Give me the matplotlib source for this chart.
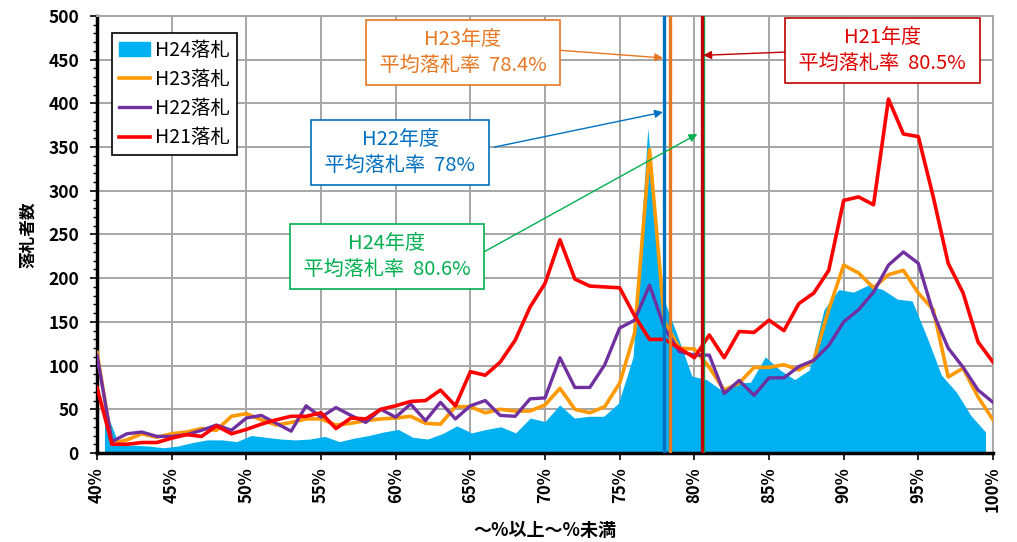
"""
Distribution of winning bid rates (落札率) for H21-H24, with yearly averages.
"""
import numpy as np
import matplotlib.pyplot as plt
from matplotlib.patches import Patch
from matplotlib.lines import Line2D
from matplotlib.ticker import MultipleLocator

plt.rcParams['font.family'] = ['Noto Sans CJK JP', 'DejaVu Sans']

# bid rate bins (%), 40% .. 100%
rates = list(range(40, 101))

h24 = [52, 9, 9, 8, 6, 8, 12, 15, 15, 13,
       20, 18, 16, 15, 16, 19, 13, 17, 20, 24,
       27, 18, 16, 22, 31, 23, 27, 30, 23, 40,
       36, 55, 40, 42, 42, 57, 110, 372, 180, 135,
       88, 84, 72, 80, 81, 110, 95, 84, 95, 164,
       187, 184, 192, 187, 176, 174, 133, 89, 70, 43, 24]
h23 = [115, 11, 15, 22, 18, 22, 24, 28, 26, 42,
       45, 38, 32, 35, 39, 39, 32, 34, 37, 39,
       40, 42, 34, 33, 53, 53, 46, 50, 48, 48,
       55, 74, 50, 46, 53, 80, 137, 347, 150, 120,
       119, 98, 72, 80, 98, 98, 101, 95, 106, 164,
       215, 206, 189, 204, 209, 183, 164, 87, 97, 64, 38]
h22 = [112, 13, 22, 24, 19, 19, 21, 26, 32, 26,
       40, 43, 34, 25, 54, 41, 52, 43, 35, 50,
       41, 56, 37, 58, 39, 54, 60, 43, 42, 62,
       63, 109, 75, 75, 101, 143, 152, 192, 143, 116,
       112, 112, 68, 83, 66, 86, 86, 99, 106, 123,
       150, 164, 184, 215, 230, 217, 160, 120, 98, 72, 58]
h21 = [75, 10, 10, 12, 12, 17, 21, 19, 31, 22,
       27, 33, 38, 42, 42, 46, 28, 40, 39, 50,
       54, 59, 60, 72, 54, 93, 89, 104, 129, 167,
       194, 244, 199, 191, 190, 189, 157, 130, 130, 120,
       109, 135, 109, 139, 138, 152, 140, 171, 183, 209,
       289, 293, 284, 405, 365, 362, 293, 217, 183, 127, 104]

# yearly average bid rates
avg_labels = ["H24年度", "H23年度", "H22年度", "H21年度"]
avg_rates = [80.6, 78.4, 78.0, 80.5]

fig = plt.figure(figsize=(10.17, 5.42), dpi=100)
ax = fig.add_axes([0.0954, 0.1642, 0.8810, 0.8063])

# area series sits on Excel's "between tick marks" axis, so it spans 40.5..99.5
area_x = np.linspace(40.5, 99.5, len(h24))
ax.fill_between(area_x, h24, 0, color='#00B0F0', lw=0, zorder=2)
ax.plot(rates, h23, color='#FF9900', lw=2.6, zorder=3)
ax.plot(rates, h22, color='#7030A0', lw=2.4, zorder=3)
ax.plot(rates, h21, color='#FF0000', lw=2.6, zorder=3)

# average lines
line_cols = ['#00B050', '#E87722', '#0070C0', '#C00000']
for r, c in zip(avg_rates, line_cols):
    ax.axvline(r, color=c, lw=2.4, zorder=4)

ax.set_xlim(40, 100)
ax.set_ylim(0, 500)
ax.yaxis.set_major_locator(MultipleLocator(50))
ax.yaxis.set_minor_locator(MultipleLocator(10))
ax.set_xticks(range(40, 101, 5))
ax.set_xticklabels([f"{v}%" for v in range(40, 101, 5)], rotation=90,
                   fontsize=12, fontweight='bold')
for t in ax.get_yticklabels():
    t.set_fontsize(12.5)
    t.set_fontweight('bold')
ax.tick_params(axis='both', which='major', length=5, width=1.2,
               direction='out', pad=5)
ax.tick_params(axis='y', which='major', pad=8)
ax.tick_params(axis='y', which='minor', length=3, width=1.0, direction='out')
ax.grid(True, which='major', color='#a6a6a6', lw=1.4, zorder=0)
ax.set_axisbelow(True)
for s in ['left', 'bottom']:
    ax.spines[s].set_linewidth(2.5)
for s in ['top', 'right']:
    ax.spines[s].set_color('#a6a6a6')
    ax.spines[s].set_linewidth(1.4)

ax.set_ylabel("落札者数", fontsize=12, fontweight='bold', labelpad=8)
ax.set_xlabel("～%以上～%未満", fontsize=13, fontweight='bold', labelpad=6)

# legend
handles = [Patch(color='#00B0F0'),
           Line2D([], [], color='#FF9900', lw=2.6),
           Line2D([], [], color='#7030A0', lw=2.4),
           Line2D([], [], color='#FF0000', lw=2.6)]
leg = ax.legend(handles, ["H24落札", "H23落札", "H22落札", "H21落札"],
                loc='upper left', bbox_to_anchor=(0.0167, 0.961),
                borderaxespad=0, fancybox=False, framealpha=1,
                edgecolor='black', fontsize=14, handlelength=1.6,
                handletextpad=0.25, labelspacing=0.42, borderpad=0.35)
leg.get_frame().set_linewidth(1.2)

# callout boxes: (text centre, arrow start, arrow tip)
txt_cols = ['#00B050', '#E87722', '#0070C0', '#E00000']
box_pos = [(59.4, 225), (64.5, 458), (60.3, 344), (92.6, 461)]
arrow_from = [(65.9, 230), (70.8, 461), (66.6, 350), (86.5, 459)]
arrow_to = [(80.2, 365), (77.9, 452), (77.9, 390), (80.6, 455)]
for lab, r, c, tc, bp, af, at in zip(avg_labels, avg_rates, line_cols, txt_cols,
                                      box_pos, arrow_from, arrow_to):
    ax.annotate("", xy=at, xytext=af,
                arrowprops=dict(arrowstyle='-|>', color=c, lw=1.0,
                                mutation_scale=12, shrinkA=0, shrinkB=0),
                zorder=6)
    ax.text(bp[0], bp[1], f"{lab}\n 平均落札率  {r:g}% ", ha='center',
            va='center', fontsize=14.5, color=tc, linespacing=1.3, zorder=7,
            bbox=dict(boxstyle='square,pad=0.45', fc='white', ec=c, lw=1.2))

fig.savefig("out.png", dpi=100)
